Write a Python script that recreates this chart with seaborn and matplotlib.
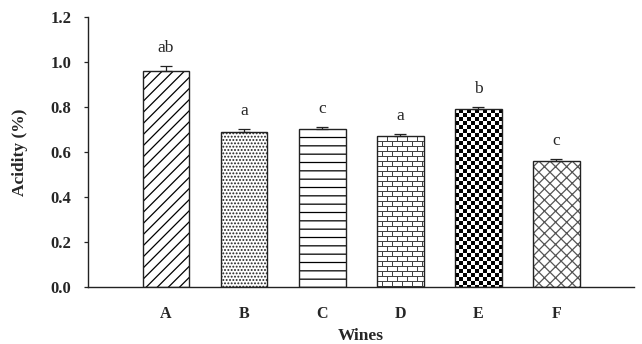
import matplotlib
matplotlib.use("Agg")
import matplotlib.pyplot as plt
import numpy as np
import pandas as pd
import seaborn as sns

# data
wines = ["A", "B", "C", "D", "E", "F"]
acidity = [0.96, 0.69, 0.70, 0.67, 0.79, 0.56]
acidity_err = [0.02, 0.01, 0.01, 0.01, 0.01, 0.01]
letters = ["ab", "a", "c", "a", "b", "c"]
y_ticks = [0.0, 0.2, 0.4, 0.6, 0.8, 1.0, 1.2]

# fill style per bar: matplotlib hatch, or a bitmap texture for bricks / checkerboard
fills = ["///", ".....", "--", "brick", "checker", "xxx"]
hatch_colors = ["black", "#222222", "black", "#444444", "black", "#555555"]

sns.set_style("white")
plt.rcParams["font.family"] = ["Liberation Serif", "DejaVu Serif"]
plt.rcParams["hatch.linewidth"] = 0.9


def texture(kind, w, h):
    # pixel texture, 1 = ink
    yy, xx = np.mgrid[0:h, 0:w]
    if kind == "checker":
        return ((yy // 4 + xx // 4) % 2).astype(float)
    row = yy // 5
    horiz = (yy % 5 == 0)
    vert = ((xx + (row % 2) * 5) % 10 == 0)
    return (horiz | vert).astype(float)


df = pd.DataFrame({"Wines": wines, "Acidity": acidity})

fig = plt.figure(figsize=(6.42, 3.44), dpi=100)
ax = fig.add_axes([0.137, 0.166, 0.851, 0.785])

sns.barplot(data=df, x="Wines", y="Acidity", color="white", width=0.6,
            errorbar=None, edgecolor="#222222", linewidth=1.0, ax=ax)

ax.set_xlim(-1, 6)
ax.set_ylim(0, 1.2)

for patch, f, hc in zip(ax.patches, fills, hatch_colors):
    if f in ("brick", "checker"):
        x0, y0 = patch.get_x(), patch.get_y()
        x1, y1 = x0 + patch.get_width(), y0 + patch.get_height()
        (px0, py0), (px1, py1) = ax.transData.transform([(x0, y0), (x1, y1)])
        w, h = int(round(px1 - px0)), int(round(py1 - py0))
        tex = texture(f, w, h)
        cmap = matplotlib.colors.ListedColormap(["white", hc])
        im = ax.imshow(tex, extent=(x0, x1, y0, y1), origin="upper", cmap=cmap,
                       interpolation="nearest", aspect="auto", zorder=1.5)
        im.set_clip_path(patch)
        patch.set_facecolor("none")
        patch.set_zorder(2)
    else:
        patch.set_hatch(f)
        # hatch colour separate from the outline
        patch._hatch_color = matplotlib.colors.to_rgba(hc)

pos = np.arange(len(wines))
ax.errorbar(pos, acidity, yerr=[np.zeros(len(wines)), acidity_err], fmt="none",
            ecolor="#222222", elinewidth=0.9, capsize=4, capthick=0.9, zorder=3)

for x, v, e, lab in zip(pos, acidity, acidity_err, letters):
    ax.text(x, v + e + 0.045, lab, ha="center", va="bottom", fontsize=12.5)

ax.set_xlim(-1, 6)
ax.set_ylim(0, 1.2)
ax.set_yticks(y_ticks)
ax.set_yticklabels([f"{t:.1f}" for t in y_ticks], fontweight="bold", fontsize=12)
ax.set_xticks(pos)
ax.set_xticklabels(wines, fontweight="bold", fontsize=11.5)
ax.tick_params(axis="y", left=True, direction="out", length=3, width=0.9, pad=9)
ax.tick_params(axis="x", length=0, pad=14)
ax.set_xlabel("Wines", fontweight="bold", fontsize=12.5, labelpad=4)
ax.set_ylabel("Acidity (%)", fontweight="bold", fontsize=12.5, labelpad=16)

sns.despine(ax=ax, top=True, right=True)
for s in ["left", "bottom"]:
    ax.spines[s].set_color("#222222")
    ax.spines[s].set_linewidth(1.0)

fig.savefig("out.png", dpi=100)
